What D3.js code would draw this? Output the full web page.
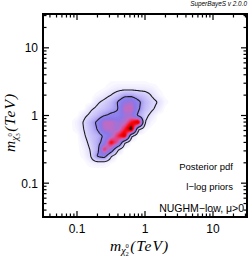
<!DOCTYPE html>
<html>
<head>
<meta charset="utf-8">
<script src="https://cdn.jsdelivr.net/npm/d3@7"></script>
<style>
  body { margin: 0; background: #fff; }
</style>
</head>
<body>
<script>
// posterior pdf (relative, 0-100) on a grid in log10(m / TeV)
const logX = [-1.1, -1.0, -0.9, -0.8, -0.7, -0.6, -0.5, -0.4, -0.3, -0.2, -0.1, 0.0, 0.1, 0.2, 0.3, 0.4];
const logY = [0.5, 0.4, 0.3, 0.2, 0.1, 0.0, -0.1, -0.2, -0.3, -0.4, -0.5, -0.6, -0.7, -0.8, -0.9];
const density = [
  [0, 0, 0, 0, 0, 0, 1, 1, 1, 1, 1, 1, 0, 0, 0, 0],
  [0, 0, 0, 0, 0, 1, 3, 5, 5, 5, 5, 5, 4, 1, 0, 0],
  [0, 0, 0, 0, 2, 5, 10, 17, 27, 27, 20, 16, 9, 3, 0, 0],
  [0, 0, 0, 0, 8, 13, 20, 33, 48, 52, 37, 22, 14, 9, 2, 0],
  [0, 0, 0, 8, 13, 18, 25, 31, 58, 60, 35, 20, 12, 6, 0, 0],
  [0, 0, 7, 13, 21, 31, 36, 37, 50, 50, 28, 14, 6, 0, 0, 0],
  [0, 4, 11, 23, 36, 57, 58, 50, 54, 76, 92, 10, 2, 0, 0, 0],
  [0, 3, 10, 20, 33, 55, 56, 50, 72, 100, 12, 2, 0, 0, 0, 0],
  [0, 0, 8, 17, 23, 35, 48, 72, 90, 12, 0, 0, 0, 0, 0, 0],
  [0, 0, 5, 14, 25, 40, 82, 62, 11, 0, 0, 0, 0, 0, 0, 0],
  [0, 0, 3, 11, 24, 72, 48, 12, 0, 0, 0, 0, 0, 0, 0, 0],
  [0, 0, 2, 9, 34, 40, 11, 0, 0, 0, 0, 0, 0, 0, 0, 0],
  [0, 0, 0, 3, 5, 4, 1, 0, 0, 0, 0, 0, 0, 0, 0, 0],
  [0, 0, 0, 0, 0, 0, 0, 0, 0, 0, 0, 0, 0, 0, 0, 0],
  [0, 0, 0, 0, 0, 0, 0, 0, 0, 0, 0, 0, 0, 0, 0, 0]
];
const credible = [10, 32];           // 95% and 68% contours
const xTicks = [0.1, 1, 10];
const yTicks = [0.1, 1, 10];
const notes = ["Posterior pdf", "l\u2212log priors", "NUGHM\u2212low, \u03bc>0"];

const W = 249, H = 265;
const margin = { left: 43, right: 2, top: 14, bottom: 48 };

const svg = d3.select("body").append("svg")
  .attr("width", W).attr("height", H)
  .style("font-family", "'Liberation Sans', Arial, sans-serif");

const x = d3.scaleLog().domain([10 ** -1.5, 10 ** 1.5]).range([margin.left, W - margin.right]);
const y = d3.scaleLog().domain([10 ** -1.5, 10 ** 1.5]).range([H - margin.bottom, margin.top]);

// smooth the grid for drawing (bilinear, then a very light box blur)
const k = 8;
const n = logX.length, m = logY.length;
const fn = (n - 1) * k + 1, fm = (m - 1) * k + 1;
let fine = new Float64Array(fn * fm);
for (let j = 0; j < fm; j++) {
  const gy = j / k, j0 = Math.min(Math.floor(gy), m - 2), ty = gy - j0;
  for (let i = 0; i < fn; i++) {
    const gx = i / k, i0 = Math.min(Math.floor(gx), n - 2), tx = gx - i0;
    fine[j * fn + i] =
      density[j0][i0] * (1 - tx) * (1 - ty) + density[j0][i0 + 1] * tx * (1 - ty) +
      density[j0 + 1][i0] * (1 - tx) * ty + density[j0 + 1][i0 + 1] * tx * ty;
  }
}
function blur(a, r) {
  const out = new Float64Array(a.length), tmp = new Float64Array(a.length);
  for (let j = 0; j < fm; j++) for (let i = 0; i < fn; i++) {
    let s = 0, c = 0;
    for (let d = -r; d <= r; d++) { const ii = i + d; if (ii >= 0 && ii < fn) { s += a[j * fn + ii]; c++; } }
    tmp[j * fn + i] = s / c;
  }
  for (let j = 0; j < fm; j++) for (let i = 0; i < fn; i++) {
    let s = 0, c = 0;
    for (let d = -r; d <= r; d++) { const jj = j + d; if (jj >= 0 && jj < fm) { s += tmp[jj * fn + i]; c++; } }
    out[j * fn + i] = s / c;
  }
  return out;
}
fine = blur(fine, 1);

const stepX = (logX[1] - logX[0]) / k, stepY = (logY[1] - logY[0]) / k;
const proj = d3.geoTransform({
  point(u, v) {
    this.stream.point(x(10 ** (logX[0] + (u - 0.5) * stepX)), y(10 ** (logY[0] + (v - 0.5) * stepY)));
  }
});
const path = d3.geoPath(proj);

const color = d3.scaleLinear()
  .domain([0, 4, 12, 25, 34, 46, 58, 68, 76, 85, 91, 100])
  .range(["#ffffff", "#f1effe", "#d9d4fb", "#b6adf5", "#9184ee", "#8a78e8", "#c26ac0",
          "#e63c78", "#ff0a10", "#d80000", "#3a0000", "#000000"])
  .clamp(true);

svg.append("clipPath").attr("id", "plot")
  .append("rect")
  .attr("x", margin.left).attr("y", margin.top)
  .attr("width", W - margin.left - margin.right).attr("height", H - margin.top - margin.bottom);

const g = svg.append("g").attr("clip-path", "url(#plot)");

const bands = d3.contours().size([fn, fm]).thresholds(d3.range(1, 100, 1.5))(fine);
g.selectAll(".band").data(bands).enter().append("path")
  .attr("class", "band")
  .attr("d", path)
  .attr("fill", d => color(d.value + 0.75));

const lines = d3.contours().size([fn, fm]).thresholds(credible)(fine);
g.selectAll(".cl").data(lines).enter().append("path")
  .attr("class", "cl")
  .attr("d", path)
  .attr("fill", "none")
  .attr("stroke", "#1a1a1a")
  .attr("stroke-width", 1.1);

// ticks on all four sides, pointing in
const x0 = margin.left, x1 = W - margin.right, y0 = H - margin.bottom, y1 = margin.top;
const isMajor = v => Math.abs(Math.log10(v) - Math.round(Math.log10(v))) < 1e-6;
const tl = v => isMajor(v) ? 6 : 3.5;
const ticks = svg.append("g").attr("stroke", "#000").attr("stroke-width", 1.2);
x.ticks().forEach(v => {
  ticks.append("line").attr("x1", x(v)).attr("x2", x(v)).attr("y1", y0).attr("y2", y0 - tl(v));
  ticks.append("line").attr("x1", x(v)).attr("x2", x(v)).attr("y1", y1).attr("y2", y1 + tl(v));
});
y.ticks().forEach(v => {
  ticks.append("line").attr("y1", y(v)).attr("y2", y(v)).attr("x1", x0).attr("x2", x0 + tl(v));
  ticks.append("line").attr("y1", y(v)).attr("y2", y(v)).attr("x1", x1).attr("x2", x1 - tl(v));
});

svg.append("rect")
  .attr("x", x0).attr("y", y1).attr("width", x1 - x0).attr("height", y0 - y1)
  .attr("fill", "none").attr("stroke", "#000").attr("stroke-width", 2);

svg.selectAll(".xl").data(xTicks).enter().append("text")
  .attr("x", d => x(d)).attr("y", y0 + 16)
  .attr("text-anchor", "middle").attr("font-size", 12)
  .text(d => d);
svg.selectAll(".yl").data(yTicks).enter().append("text")
  .attr("x", x0 - 5).attr("y", d => y(d) + 4.5)
  .attr("text-anchor", "end").attr("font-size", 12)
  .text(d => d);

// axis titles
function title(sel, sub) {
  sel.attr("font-family", "'Liberation Serif', 'Times New Roman', serif").attr("font-style", "italic");
  sel.append("tspan").attr("font-size", 15.5).text("m");
  sel.append("tspan").attr("font-size", 10).attr("dy", 3).text("\u03c7");
  sel.append("tspan").attr("font-size", 6.5).attr("font-style", "normal").attr("dy", -6.5).text("0");
  sel.append("tspan").attr("font-size", 6.5).attr("font-style", "normal").attr("dx", -3.4).attr("dy", 8.5).text(sub);
  sel.append("tspan").attr("font-size", 15.5).attr("dx", 1.5).attr("dy", -5).attr("letter-spacing", 1).text("(TeV)");
}
title(svg.append("text").attr("x", 110).attr("y", 251), "2");
title(svg.append("text").attr("transform", "translate(15,152) rotate(-90)"), "3");

// annotations
const notePos = [[233, 170], [233, 190], [244, 212]];
svg.selectAll(".note").data(notes).enter().append("text")
  .attr("x", (d, i) => notePos[i][0]).attr("y", (d, i) => notePos[i][1])
  .attr("text-anchor", "end").attr("font-size", (d, i) => i === 2 ? 10.5 : 9.5)
  .text(d => d);

svg.append("text")
  .attr("x", 247).attr("y", 6)
  .attr("text-anchor", "end").attr("font-size", 6.4).attr("font-style", "italic")
  .text("SuperBayeS v 2.0.0");
</script>
</body>
</html>
